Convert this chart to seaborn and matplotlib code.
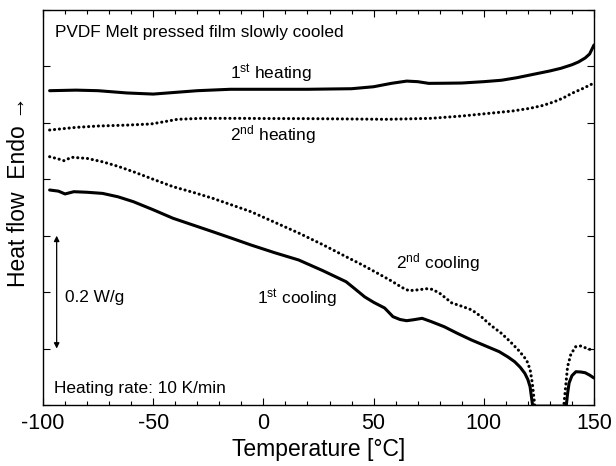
import matplotlib
matplotlib.use("Agg")
import matplotlib.pyplot as plt
import seaborn as sns
import pandas as pd
from matplotlib.ticker import MultipleLocator, NullFormatter

# ---- data (heat flow, W/g, arbitrary offset) ----
heat1_T = [-97, -85, -75, -62, -50, -40, -30, -15, 0, 20, 40, 50, 58, 65, 70, 75, 82, 90,
           100, 108, 115, 120, 125, 130, 135, 140, 143, 146, 148, 150]
heat1_V = [0.557, 0.558, 0.557, 0.553, 0.551, 0.554, 0.557, 0.5595, 0.5595, 0.5595, 0.5605,
           0.564, 0.570, 0.574, 0.573, 0.570, 0.5702, 0.5706, 0.573, 0.5755, 0.580, 0.584,
           0.588, 0.592, 0.5967, 0.603, 0.608, 0.615, 0.622, 0.638]

heat2_T = [-97, -85, -75, -62, -51, -45, -39, -28, -10, 0, 20, 41, 56, 76, 90, 104, 113,
           121, 127, 132, 136, 140, 145, 150]
heat2_V = [0.4873, 0.492, 0.4944, 0.496, 0.498, 0.502, 0.5063, 0.508, 0.508, 0.5077, 0.5075,
           0.5068, 0.5063, 0.508, 0.5121, 0.5175, 0.521, 0.5258, 0.531, 0.5375, 0.544,
           0.5524, 0.561, 0.5706]

cool2_T = [-97, -93, -90.5, -87, -80, -73, -66, -59, -50, -41, -32, -23, -14, -5.6, 5, 16,
           27, 37.5, 45, 51.6, 58, 63, 66, 70, 74, 76.6, 80, 85.5, 90, 94.6, 99, 103, 108,
           112, 116, 119.4, 121, 122, 123, 123.5, 136, 136.4, 137.2, 138, 139.5, 141.7,
           144, 147, 150]
cool2_V = [0.440, 0.436, 0.433, 0.439, 0.437, 0.431, 0.423, 0.4134, 0.400, 0.3869, 0.377,
           0.3663, 0.354, 0.3425, 0.324, 0.3048, 0.284, 0.2628, 0.248, 0.2339, 0.220,
           0.208, 0.2026, 0.204, 0.206, 0.205, 0.198, 0.1808, 0.175, 0.1684, 0.156, 0.1418,
           0.127, 0.1122, 0.096, 0.0797, 0.063, 0.039, 0.0035, -0.2, -0.2, 0.0035, 0.035,
           0.0679, 0.090, 0.1033, 0.1046, 0.100, 0.0962]

cool1_T = [-97, -93, -90, -86, -80, -73, -66, -59, -50, -41, -32, -23, -14, -5.6, 5, 16, 27,
           37.5, 41, 46, 50, 55, 58.8, 62, 65, 68, 72, 76, 82, 88, 94.4, 100, 107, 111, 114,
           116.5, 118.6, 120, 121, 121.7, 122.2, 137, 137.4, 138, 138.7, 140, 141.8, 144,
           146, 148, 150]
cool1_V = [0.381, 0.379, 0.374, 0.378, 0.377, 0.375, 0.369, 0.3603, 0.346, 0.3309, 0.319,
           0.3071, 0.295, 0.2835, 0.270, 0.257, 0.238, 0.2185, 0.2075, 0.1915, 0.182,
           0.1719, 0.1565, 0.1515, 0.1494, 0.151, 0.1536, 0.148, 0.1388, 0.127, 0.1152,
           0.106, 0.0945, 0.085, 0.0767, 0.067, 0.0562, 0.045, 0.0324, 0.012, -0.002,
           -0.002, -0.002, 0.020, 0.039, 0.052, 0.059, 0.0585, 0.0572, 0.053, 0.0478]

xlim = (-100, 150)
ylim = (0.0, 0.7)

plt.rcParams["figure.dpi"] = 100
sns.set_style("ticks")
plt.rcParams["font.family"] = ["Liberation Sans", "DejaVu Sans"]
plt.rcParams["mathtext.fontset"] = "custom"
plt.rcParams["mathtext.rm"] = "Liberation Sans"
plt.rcParams["mathtext.it"] = "Liberation Sans"
plt.rcParams["mathtext.default"] = "rm"
plt.rcParams["axes.unicode_minus"] = False
for key in ["text.color", "axes.labelcolor", "xtick.color", "ytick.color",
            "axes.edgecolor", "xtick.labelcolor", "ytick.labelcolor"]:
    plt.rcParams[key] = "black"

fig = plt.figure(figsize=(6.16, 4.66), dpi=100)
ax = fig.add_axes([43 / 616, 61 / 466, (594 - 43) / 616, (405 - 10) / 466])

def df(T, V):
    return pd.DataFrame({"T": T, "V": V})

lw = 2.2
sns.lineplot(data=df(heat1_T, heat1_V), x="T", y="V", ax=ax, color="black", lw=lw,
             estimator=None)
sns.lineplot(data=df(cool1_T, cool1_V), x="T", y="V", ax=ax, color="black", lw=lw,
             estimator=None)
sns.lineplot(data=df(heat2_T, heat2_V), x="T", y="V", ax=ax, color="black", lw=lw,
             estimator=None)
sns.lineplot(data=df(cool2_T, cool2_V), x="T", y="V", ax=ax, color="black", lw=lw,
             estimator=None)
lines = ax.get_lines()
for ln in lines[2:4]:
    ln.set_linestyle((0, (0.05, 1.55)))
    ln.set_dash_capstyle("round")
for ln in lines[0:2]:
    ln.set_solid_capstyle("round")

ax.set_xlim(*xlim)
ax.set_ylim(*ylim)
ax.xaxis.set_major_locator(MultipleLocator(50))
ax.xaxis.set_minor_locator(MultipleLocator(10))
ax.yaxis.set_major_locator(MultipleLocator(0.1))
ax.yaxis.set_major_formatter(NullFormatter())
ax.tick_params(which="both", direction="in", top=True, right=True, width=0.8,
               labelsize=15.5, color="black", labelcolor="black", pad=5.5)
ax.tick_params(which="major", length=5)
ax.tick_params(which="minor", length=3)
ax.tick_params(axis="y", which="both", length=5)
for s in ax.spines.values():
    s.set_linewidth(1.0)
    s.set_color("black")

ax.set_xlabel("Temperature [°C]", fontsize=16.5, labelpad=3, color="black")
ax.set_ylabel("Heat flow  Endo \u2192", fontsize=16.5, color="black")
ax.yaxis.set_label_coords(-0.024, 0.54)

fs = 12.4
ax.text(-94.6, 0.6527, "PVDF Melt pressed film slowly cooled", fontsize=fs, va="baseline")
ax.text(3.5, 0.5772, r"1$^{\rm st}$ heating", fontsize=fs, ha="center", va="baseline")
ax.text(4.4, 0.4696, r"2$^{\rm nd}$ heating", fontsize=fs, ha="center", va="baseline")
ax.text(79.2, 0.2422, r"2$^{\rm nd}$ cooling", fontsize=fs, ha="center", va="baseline")
ax.text(15.2, 0.179, r"1$^{\rm st}$ cooling", fontsize=fs, ha="center", va="baseline")
ax.text(-90.2, 0.183, "0.2 W/g", fontsize=fs, va="baseline")
ax.text(-95, 0.0207, "Heating rate: 10 K/min", fontsize=fs, va="baseline")
ax.annotate("", xy=(-93.8, 0.3), xytext=(-93.8, 0.1),
            arrowprops=dict(arrowstyle="<|-|>", color="black", lw=0.9,
                            mutation_scale=8, shrinkA=0, shrinkB=0))

fig.savefig("out.png", dpi=100)
